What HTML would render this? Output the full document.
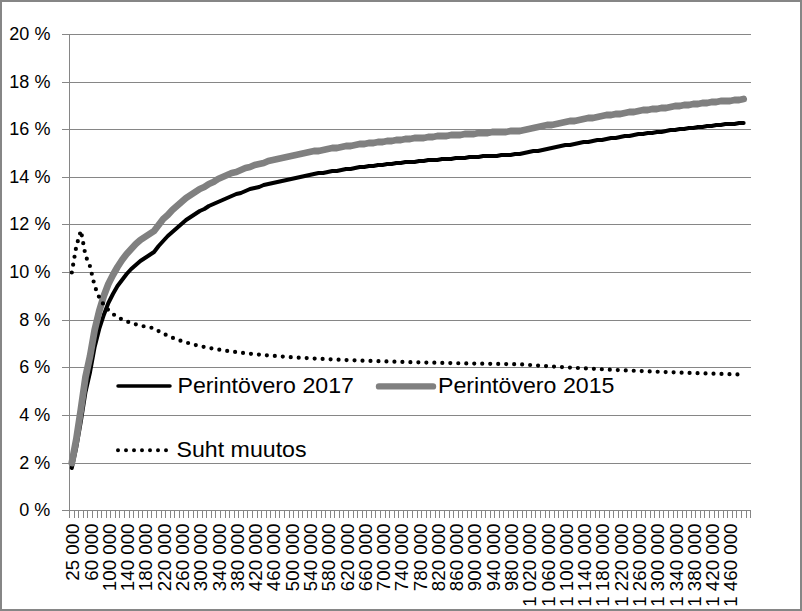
<!DOCTYPE html>
<html><head><meta charset="utf-8"><style>
html,body{margin:0;padding:0;background:#fff;}
svg{display:block;}
text{font-family:"Liberation Sans",sans-serif;fill:#000;}
</style></head><body>
<svg width="802" height="611" viewBox="0 0 802 611">
<rect x="0" y="0" width="802" height="611" fill="#fff"/>
<rect x="1" y="1" width="800" height="609" fill="none" stroke="#868686" stroke-width="2"/>

<rect x="70" y="34" width="681" height="1" fill="#868686"/>
<rect x="70" y="82" width="681" height="1" fill="#868686"/>
<rect x="70" y="129" width="681" height="1" fill="#868686"/>
<rect x="70" y="177" width="681" height="1" fill="#868686"/>
<rect x="70" y="224" width="681" height="1" fill="#868686"/>
<rect x="70" y="272" width="681" height="1" fill="#868686"/>
<rect x="70" y="320" width="681" height="1" fill="#868686"/>
<rect x="70" y="367" width="681" height="1" fill="#868686"/>
<rect x="70" y="415" width="681" height="1" fill="#868686"/>
<rect x="70" y="463" width="681" height="1" fill="#868686"/>
<rect x="62" y="34" width="7" height="1" fill="#868686"/>
<rect x="62" y="82" width="7" height="1" fill="#868686"/>
<rect x="62" y="129" width="7" height="1" fill="#868686"/>
<rect x="62" y="177" width="7" height="1" fill="#868686"/>
<rect x="62" y="224" width="7" height="1" fill="#868686"/>
<rect x="62" y="272" width="7" height="1" fill="#868686"/>
<rect x="62" y="320" width="7" height="1" fill="#868686"/>
<rect x="62" y="367" width="7" height="1" fill="#868686"/>
<rect x="62" y="415" width="7" height="1" fill="#868686"/>
<rect x="62" y="463" width="7" height="1" fill="#868686"/>
<rect x="62" y="510" width="7" height="1" fill="#868686"/>
<rect x="69" y="34" width="1" height="477" fill="#868686"/>
<rect x="69" y="510" width="682" height="1" fill="#868686"/>
<rect x="69" y="511" width="1" height="7" fill="#868686"/>
<rect x="74" y="511" width="1" height="7" fill="#868686"/>
<rect x="78" y="511" width="1" height="7" fill="#868686"/>
<rect x="83" y="511" width="1" height="7" fill="#868686"/>
<rect x="87" y="511" width="1" height="7" fill="#868686"/>
<rect x="92" y="511" width="1" height="7" fill="#868686"/>
<rect x="97" y="511" width="1" height="7" fill="#868686"/>
<rect x="101" y="511" width="1" height="7" fill="#868686"/>
<rect x="106" y="511" width="1" height="7" fill="#868686"/>
<rect x="110" y="511" width="1" height="7" fill="#868686"/>
<rect x="115" y="511" width="1" height="7" fill="#868686"/>
<rect x="119" y="511" width="1" height="7" fill="#868686"/>
<rect x="124" y="511" width="1" height="7" fill="#868686"/>
<rect x="129" y="511" width="1" height="7" fill="#868686"/>
<rect x="133" y="511" width="1" height="7" fill="#868686"/>
<rect x="138" y="511" width="1" height="7" fill="#868686"/>
<rect x="142" y="511" width="1" height="7" fill="#868686"/>
<rect x="147" y="511" width="1" height="7" fill="#868686"/>
<rect x="151" y="511" width="1" height="7" fill="#868686"/>
<rect x="156" y="511" width="1" height="7" fill="#868686"/>
<rect x="161" y="511" width="1" height="7" fill="#868686"/>
<rect x="165" y="511" width="1" height="7" fill="#868686"/>
<rect x="170" y="511" width="1" height="7" fill="#868686"/>
<rect x="174" y="511" width="1" height="7" fill="#868686"/>
<rect x="179" y="511" width="1" height="7" fill="#868686"/>
<rect x="183" y="511" width="1" height="7" fill="#868686"/>
<rect x="188" y="511" width="1" height="7" fill="#868686"/>
<rect x="193" y="511" width="1" height="7" fill="#868686"/>
<rect x="197" y="511" width="1" height="7" fill="#868686"/>
<rect x="202" y="511" width="1" height="7" fill="#868686"/>
<rect x="206" y="511" width="1" height="7" fill="#868686"/>
<rect x="211" y="511" width="1" height="7" fill="#868686"/>
<rect x="215" y="511" width="1" height="7" fill="#868686"/>
<rect x="220" y="511" width="1" height="7" fill="#868686"/>
<rect x="225" y="511" width="1" height="7" fill="#868686"/>
<rect x="229" y="511" width="1" height="7" fill="#868686"/>
<rect x="234" y="511" width="1" height="7" fill="#868686"/>
<rect x="238" y="511" width="1" height="7" fill="#868686"/>
<rect x="243" y="511" width="1" height="7" fill="#868686"/>
<rect x="247" y="511" width="1" height="7" fill="#868686"/>
<rect x="252" y="511" width="1" height="7" fill="#868686"/>
<rect x="257" y="511" width="1" height="7" fill="#868686"/>
<rect x="261" y="511" width="1" height="7" fill="#868686"/>
<rect x="266" y="511" width="1" height="7" fill="#868686"/>
<rect x="270" y="511" width="1" height="7" fill="#868686"/>
<rect x="275" y="511" width="1" height="7" fill="#868686"/>
<rect x="279" y="511" width="1" height="7" fill="#868686"/>
<rect x="284" y="511" width="1" height="7" fill="#868686"/>
<rect x="289" y="511" width="1" height="7" fill="#868686"/>
<rect x="293" y="511" width="1" height="7" fill="#868686"/>
<rect x="298" y="511" width="1" height="7" fill="#868686"/>
<rect x="302" y="511" width="1" height="7" fill="#868686"/>
<rect x="307" y="511" width="1" height="7" fill="#868686"/>
<rect x="311" y="511" width="1" height="7" fill="#868686"/>
<rect x="316" y="511" width="1" height="7" fill="#868686"/>
<rect x="321" y="511" width="1" height="7" fill="#868686"/>
<rect x="325" y="511" width="1" height="7" fill="#868686"/>
<rect x="330" y="511" width="1" height="7" fill="#868686"/>
<rect x="334" y="511" width="1" height="7" fill="#868686"/>
<rect x="339" y="511" width="1" height="7" fill="#868686"/>
<rect x="343" y="511" width="1" height="7" fill="#868686"/>
<rect x="348" y="511" width="1" height="7" fill="#868686"/>
<rect x="353" y="511" width="1" height="7" fill="#868686"/>
<rect x="357" y="511" width="1" height="7" fill="#868686"/>
<rect x="362" y="511" width="1" height="7" fill="#868686"/>
<rect x="366" y="511" width="1" height="7" fill="#868686"/>
<rect x="371" y="511" width="1" height="7" fill="#868686"/>
<rect x="375" y="511" width="1" height="7" fill="#868686"/>
<rect x="380" y="511" width="1" height="7" fill="#868686"/>
<rect x="385" y="511" width="1" height="7" fill="#868686"/>
<rect x="389" y="511" width="1" height="7" fill="#868686"/>
<rect x="394" y="511" width="1" height="7" fill="#868686"/>
<rect x="398" y="511" width="1" height="7" fill="#868686"/>
<rect x="403" y="511" width="1" height="7" fill="#868686"/>
<rect x="407" y="511" width="1" height="7" fill="#868686"/>
<rect x="412" y="511" width="1" height="7" fill="#868686"/>
<rect x="417" y="511" width="1" height="7" fill="#868686"/>
<rect x="421" y="511" width="1" height="7" fill="#868686"/>
<rect x="426" y="511" width="1" height="7" fill="#868686"/>
<rect x="430" y="511" width="1" height="7" fill="#868686"/>
<rect x="435" y="511" width="1" height="7" fill="#868686"/>
<rect x="439" y="511" width="1" height="7" fill="#868686"/>
<rect x="444" y="511" width="1" height="7" fill="#868686"/>
<rect x="449" y="511" width="1" height="7" fill="#868686"/>
<rect x="453" y="511" width="1" height="7" fill="#868686"/>
<rect x="458" y="511" width="1" height="7" fill="#868686"/>
<rect x="462" y="511" width="1" height="7" fill="#868686"/>
<rect x="467" y="511" width="1" height="7" fill="#868686"/>
<rect x="471" y="511" width="1" height="7" fill="#868686"/>
<rect x="476" y="511" width="1" height="7" fill="#868686"/>
<rect x="481" y="511" width="1" height="7" fill="#868686"/>
<rect x="485" y="511" width="1" height="7" fill="#868686"/>
<rect x="490" y="511" width="1" height="7" fill="#868686"/>
<rect x="494" y="511" width="1" height="7" fill="#868686"/>
<rect x="499" y="511" width="1" height="7" fill="#868686"/>
<rect x="503" y="511" width="1" height="7" fill="#868686"/>
<rect x="508" y="511" width="1" height="7" fill="#868686"/>
<rect x="513" y="511" width="1" height="7" fill="#868686"/>
<rect x="517" y="511" width="1" height="7" fill="#868686"/>
<rect x="522" y="511" width="1" height="7" fill="#868686"/>
<rect x="526" y="511" width="1" height="7" fill="#868686"/>
<rect x="531" y="511" width="1" height="7" fill="#868686"/>
<rect x="535" y="511" width="1" height="7" fill="#868686"/>
<rect x="540" y="511" width="1" height="7" fill="#868686"/>
<rect x="545" y="511" width="1" height="7" fill="#868686"/>
<rect x="549" y="511" width="1" height="7" fill="#868686"/>
<rect x="554" y="511" width="1" height="7" fill="#868686"/>
<rect x="558" y="511" width="1" height="7" fill="#868686"/>
<rect x="563" y="511" width="1" height="7" fill="#868686"/>
<rect x="567" y="511" width="1" height="7" fill="#868686"/>
<rect x="572" y="511" width="1" height="7" fill="#868686"/>
<rect x="577" y="511" width="1" height="7" fill="#868686"/>
<rect x="581" y="511" width="1" height="7" fill="#868686"/>
<rect x="586" y="511" width="1" height="7" fill="#868686"/>
<rect x="590" y="511" width="1" height="7" fill="#868686"/>
<rect x="595" y="511" width="1" height="7" fill="#868686"/>
<rect x="599" y="511" width="1" height="7" fill="#868686"/>
<rect x="604" y="511" width="1" height="7" fill="#868686"/>
<rect x="609" y="511" width="1" height="7" fill="#868686"/>
<rect x="613" y="511" width="1" height="7" fill="#868686"/>
<rect x="618" y="511" width="1" height="7" fill="#868686"/>
<rect x="622" y="511" width="1" height="7" fill="#868686"/>
<rect x="627" y="511" width="1" height="7" fill="#868686"/>
<rect x="631" y="511" width="1" height="7" fill="#868686"/>
<rect x="636" y="511" width="1" height="7" fill="#868686"/>
<rect x="641" y="511" width="1" height="7" fill="#868686"/>
<rect x="645" y="511" width="1" height="7" fill="#868686"/>
<rect x="650" y="511" width="1" height="7" fill="#868686"/>
<rect x="654" y="511" width="1" height="7" fill="#868686"/>
<rect x="659" y="511" width="1" height="7" fill="#868686"/>
<rect x="663" y="511" width="1" height="7" fill="#868686"/>
<rect x="668" y="511" width="1" height="7" fill="#868686"/>
<rect x="673" y="511" width="1" height="7" fill="#868686"/>
<rect x="677" y="511" width="1" height="7" fill="#868686"/>
<rect x="682" y="511" width="1" height="7" fill="#868686"/>
<rect x="686" y="511" width="1" height="7" fill="#868686"/>
<rect x="691" y="511" width="1" height="7" fill="#868686"/>
<rect x="695" y="511" width="1" height="7" fill="#868686"/>
<rect x="700" y="511" width="1" height="7" fill="#868686"/>
<rect x="704" y="511" width="1" height="7" fill="#868686"/>
<rect x="709" y="511" width="1" height="7" fill="#868686"/>
<rect x="714" y="511" width="1" height="7" fill="#868686"/>
<rect x="718" y="511" width="1" height="7" fill="#868686"/>
<rect x="723" y="511" width="1" height="7" fill="#868686"/>
<rect x="727" y="511" width="1" height="7" fill="#868686"/>
<rect x="732" y="511" width="1" height="7" fill="#868686"/>
<rect x="736" y="511" width="1" height="7" fill="#868686"/>
<rect x="741" y="511" width="1" height="7" fill="#868686"/>
<rect x="746" y="511" width="1" height="7" fill="#868686"/>
<rect x="750" y="511" width="1" height="7" fill="#868686"/>
<text x="50.4" y="40" font-size="18" text-anchor="end">20 %</text>
<text x="50.4" y="88" font-size="18" text-anchor="end">18 %</text>
<text x="50.4" y="135" font-size="18" text-anchor="end">16 %</text>
<text x="50.4" y="183" font-size="18" text-anchor="end">14 %</text>
<text x="50.4" y="230" font-size="18" text-anchor="end">12 %</text>
<text x="50.4" y="278" font-size="18" text-anchor="end">10 %</text>
<text x="50.4" y="326" font-size="18" text-anchor="end">8 %</text>
<text x="50.4" y="373" font-size="18" text-anchor="end">6 %</text>
<text x="50.4" y="421" font-size="18" text-anchor="end">4 %</text>
<text x="50.4" y="469" font-size="18" text-anchor="end">2 %</text>
<text x="50.4" y="516" font-size="18" text-anchor="end">0 %</text>
<text transform="translate(79.29,523.5) rotate(-90) scale(1.04,1)" font-size="18" text-anchor="end">25 000</text>
<text transform="translate(97.57,523.5) rotate(-90) scale(1.04,1)" font-size="18" text-anchor="end">60 000</text>
<text transform="translate(115.85,523.5) rotate(-90) scale(1.04,1)" font-size="18" text-anchor="end">100 000</text>
<text transform="translate(134.13,523.5) rotate(-90) scale(1.04,1)" font-size="18" text-anchor="end">140 000</text>
<text transform="translate(152.41,523.5) rotate(-90) scale(1.04,1)" font-size="18" text-anchor="end">180 000</text>
<text transform="translate(170.69,523.5) rotate(-90) scale(1.04,1)" font-size="18" text-anchor="end">220 000</text>
<text transform="translate(188.98,523.5) rotate(-90) scale(1.04,1)" font-size="18" text-anchor="end">260 000</text>
<text transform="translate(207.26,523.5) rotate(-90) scale(1.04,1)" font-size="18" text-anchor="end">300 000</text>
<text transform="translate(225.54,523.5) rotate(-90) scale(1.04,1)" font-size="18" text-anchor="end">340 000</text>
<text transform="translate(243.82,523.5) rotate(-90) scale(1.04,1)" font-size="18" text-anchor="end">380 000</text>
<text transform="translate(262.10,523.5) rotate(-90) scale(1.04,1)" font-size="18" text-anchor="end">420 000</text>
<text transform="translate(280.39,523.5) rotate(-90) scale(1.04,1)" font-size="18" text-anchor="end">460 000</text>
<text transform="translate(298.67,523.5) rotate(-90) scale(1.04,1)" font-size="18" text-anchor="end">500 000</text>
<text transform="translate(316.95,523.5) rotate(-90) scale(1.04,1)" font-size="18" text-anchor="end">540 000</text>
<text transform="translate(335.23,523.5) rotate(-90) scale(1.04,1)" font-size="18" text-anchor="end">580 000</text>
<text transform="translate(353.51,523.5) rotate(-90) scale(1.04,1)" font-size="18" text-anchor="end">620 000</text>
<text transform="translate(371.80,523.5) rotate(-90) scale(1.04,1)" font-size="18" text-anchor="end">660 000</text>
<text transform="translate(390.08,523.5) rotate(-90) scale(1.04,1)" font-size="18" text-anchor="end">700 000</text>
<text transform="translate(408.36,523.5) rotate(-90) scale(1.04,1)" font-size="18" text-anchor="end">740 000</text>
<text transform="translate(426.64,523.5) rotate(-90) scale(1.04,1)" font-size="18" text-anchor="end">780 000</text>
<text transform="translate(444.92,523.5) rotate(-90) scale(1.04,1)" font-size="18" text-anchor="end">820 000</text>
<text transform="translate(463.20,523.5) rotate(-90) scale(1.04,1)" font-size="18" text-anchor="end">860 000</text>
<text transform="translate(481.49,523.5) rotate(-90) scale(1.04,1)" font-size="18" text-anchor="end">900 000</text>
<text transform="translate(499.77,523.5) rotate(-90) scale(1.04,1)" font-size="18" text-anchor="end">940 000</text>
<text transform="translate(518.05,523.5) rotate(-90) scale(1.04,1)" font-size="18" text-anchor="end">980 000</text>
<text transform="translate(536.33,523.5) rotate(-90) scale(1.04,1)" font-size="18" text-anchor="end">1 020 000</text>
<text transform="translate(554.61,523.5) rotate(-90) scale(1.04,1)" font-size="18" text-anchor="end">1 060 000</text>
<text transform="translate(572.90,523.5) rotate(-90) scale(1.04,1)" font-size="18" text-anchor="end">1 100 000</text>
<text transform="translate(591.18,523.5) rotate(-90) scale(1.04,1)" font-size="18" text-anchor="end">1 140 000</text>
<text transform="translate(609.46,523.5) rotate(-90) scale(1.04,1)" font-size="18" text-anchor="end">1 180 000</text>
<text transform="translate(627.74,523.5) rotate(-90) scale(1.04,1)" font-size="18" text-anchor="end">1 220 000</text>
<text transform="translate(646.02,523.5) rotate(-90) scale(1.04,1)" font-size="18" text-anchor="end">1 260 000</text>
<text transform="translate(664.31,523.5) rotate(-90) scale(1.04,1)" font-size="18" text-anchor="end">1 300 000</text>
<text transform="translate(682.59,523.5) rotate(-90) scale(1.04,1)" font-size="18" text-anchor="end">1 340 000</text>
<text transform="translate(700.87,523.5) rotate(-90) scale(1.04,1)" font-size="18" text-anchor="end">1 380 000</text>
<text transform="translate(719.15,523.5) rotate(-90) scale(1.04,1)" font-size="18" text-anchor="end">1 420 000</text>
<text transform="translate(737.43,523.5) rotate(-90) scale(1.04,1)" font-size="18" text-anchor="end">1 460 000</text>
<polyline points="71.79,468 76.36,447 80.93,421 85.50,392 90.07,372 94.64,347 99.21,329 103.78,315 108.35,303 112.92,294 117.49,286 122.06,280 126.63,274 131.20,269 135.77,265 140.34,261 144.91,258 149.48,255 154.05,252 158.62,246 163.19,241 167.77,236 172.34,232 176.91,228 181.48,224 186.05,220 190.62,217 195.19,214 199.76,211 204.33,209 208.90,206 213.47,204 218.04,202 222.61,200 227.18,198 231.75,196 236.32,194 240.89,193 245.46,191 250.03,189 254.60,188 259.17,187 263.74,185 268.32,184 272.89,183 277.46,182 282.03,181 286.60,180 291.17,179 295.74,178 300.31,177 304.88,176 309.45,175 314.02,174 318.59,173 323.16,173 327.73,172 332.30,171 336.87,171 341.44,170 346.01,169 350.58,169 355.15,168 359.72,167 364.30,167 368.87,166 373.44,166 378.01,165 382.58,165 387.15,164 391.72,164 396.29,163 400.86,163 405.43,162 410.00,162 414.57,162 419.14,161 423.71,161 428.28,160 432.85,160 437.42,160 441.99,159 446.56,159 451.13,159 455.70,158 460.28,158 464.85,158 469.42,157 473.99,157 478.56,157 483.13,156 487.70,156 492.27,156 496.84,156 501.41,155 505.98,155 510.55,155 515.12,154 519.69,154 524.26,153 528.83,152 533.40,151 537.97,151 542.54,150 547.11,149 551.68,148 556.26,147 560.83,146 565.40,145 569.97,145 574.54,144 579.11,143 583.68,142 588.25,142 592.82,141 597.39,140 601.96,140 606.53,139 611.10,138 615.67,138 620.24,137 624.81,136 629.38,136 633.95,135 638.52,134 643.09,134 647.66,133 652.23,133 656.81,132 661.38,132 665.95,131 670.52,130 675.09,130 679.66,129 684.23,129 688.80,128 693.37,128 697.94,127 702.51,127 707.08,126 711.65,126 716.22,125 720.79,125 725.36,124 729.93,124 734.50,124 739.07,123 743.64,123" fill="none" stroke="#000" stroke-width="4" stroke-linejoin="round" stroke-linecap="round"/>
<polyline points="71.79,463 76.36,439 80.93,409 85.50,377 90.07,356 94.64,330 99.21,311 103.78,296 108.35,284 112.92,275 117.49,267 122.06,260 126.63,254 131.20,249 135.77,244 140.34,240 144.91,237 149.48,234 154.05,231 158.62,225 163.19,219 167.77,215 172.34,210 176.91,206 181.48,202 186.05,198 190.62,195 195.19,192 199.76,189 204.33,187 208.90,184 213.47,182 218.04,179 222.61,177 227.18,175 231.75,173 236.32,172 240.89,170 245.46,168 250.03,167 254.60,165 259.17,164 263.74,163 268.32,161 272.89,160 277.46,159 282.03,158 286.60,157 291.17,156 295.74,155 300.31,154 304.88,153 309.45,152 314.02,151 318.59,151 323.16,150 327.73,149 332.30,148 336.87,148 341.44,147 346.01,146 350.58,146 355.15,145 359.72,144 364.30,144 368.87,143 373.44,143 378.01,142 382.58,142 387.15,141 391.72,141 396.29,140 400.86,140 405.43,139 410.00,139 414.57,138 419.14,138 423.71,138 428.28,137 432.85,137 437.42,136 441.99,136 446.56,136 451.13,135 455.70,135 460.28,135 464.85,134 469.42,134 473.99,134 478.56,133 483.13,133 487.70,133 492.27,132 496.84,132 501.41,132 505.98,132 510.55,131 515.12,131 519.69,131 524.26,130 528.83,129 533.40,128 537.97,127 542.54,126 547.11,125 551.68,125 556.26,124 560.83,123 565.40,122 569.97,121 574.54,121 579.11,120 583.68,119 588.25,118 592.82,118 597.39,117 601.96,116 606.53,115 611.10,115 615.67,114 620.24,114 624.81,113 629.38,112 633.95,112 638.52,111 643.09,110 647.66,110 652.23,109 656.81,109 661.38,108 665.95,108 670.52,107 675.09,106 679.66,106 684.23,105 688.80,105 693.37,104 697.94,104 702.51,103 707.08,103 711.65,102 716.22,102 720.79,101 725.36,101 729.93,101 734.50,100 739.07,100 743.64,99" fill="none" stroke="#808080" stroke-width="6.8" stroke-linejoin="round" stroke-linecap="round"/>
<polyline points="71.79,272.50 76.36,246.06 80.93,230.50 85.50,255.50 90.07,266.40 94.64,285.97 99.21,297.37 103.78,304.82 108.35,310.08 112.92,313.99 117.49,317.00 122.06,319.41 126.63,321.36 131.20,322.98 135.77,324.35 140.34,325.53 144.91,326.54 149.48,327.42 154.05,328.20 158.62,331.06 163.19,333.55 167.77,335.74 172.34,337.69 176.91,339.44 181.48,341.00 186.05,342.42 190.62,343.71 195.19,344.88 199.76,345.96 204.33,346.95 208.90,347.86 213.47,348.70 218.04,349.49 222.61,350.21 227.18,350.89 231.75,351.53 236.32,352.13 240.89,352.69 245.46,353.21 250.03,353.71 254.60,354.18 259.17,354.62 263.74,355.04 268.32,355.44 272.89,355.82 277.46,356.18 282.03,356.52 286.60,356.85 291.17,357.16 295.74,357.46 300.31,357.74 304.88,358.01 309.45,358.27 314.02,358.52 318.59,358.76 323.16,359.00 327.73,359.22 332.30,359.43 336.87,359.64 341.44,359.83 346.01,360.03 350.58,360.21 355.15,360.39 359.72,360.56 364.30,360.73 368.87,360.89 373.44,361.04 378.01,361.19 382.58,361.34 387.15,361.48 391.72,361.62 396.29,361.75 400.86,361.88 405.43,362.00 410.00,362.13 414.57,362.24 419.14,362.36 423.71,362.47 428.28,362.58 432.85,362.69 437.42,362.79 441.99,362.89 446.56,362.99 451.13,363.08 455.70,363.18 460.28,363.27 464.85,363.35 469.42,363.44 473.99,363.52 478.56,363.61 483.13,363.69 487.70,363.77 492.27,363.84 496.84,363.92 501.41,363.99 505.98,364.06 510.55,364.13 515.12,364.20 519.69,364.27 524.26,364.61 528.83,364.93 533.40,365.26 537.97,365.57 542.54,365.87 547.11,366.17 551.68,366.47 556.26,366.75 560.83,367.03 565.40,367.30 569.97,367.57 574.54,367.83 579.11,368.08 583.68,368.33 588.25,368.58 592.82,368.82 597.39,369.05 601.96,369.28 606.53,369.51 611.10,369.73 615.67,369.94 620.24,370.16 624.81,370.36 629.38,370.57 633.95,370.77 638.52,370.96 643.09,371.16 647.66,371.34 652.23,371.53 656.81,371.71 661.38,371.89 665.95,372.07 670.52,372.24 675.09,372.41 679.66,372.57 684.23,372.74 688.80,372.90 693.37,373.06 697.94,373.21 702.51,373.36 707.08,373.51 711.65,373.66 716.22,373.81 720.79,373.95 725.36,374.09 729.93,374.23 734.50,374.37 739.07,374.50 743.64,374.63" fill="none" stroke="#000" stroke-width="4.2" stroke-dasharray="0 7.984" stroke-linejoin="round" stroke-linecap="round"/>
<line x1="118" y1="386" x2="170" y2="386" stroke="#000" stroke-width="3.5" stroke-linecap="round"/>
<text transform="translate(177.5,392.5) scale(1.083,1)" font-size="21.4">Perintövero 2017</text>
<line x1="379" y1="386.4" x2="433" y2="386.4" stroke="#808080" stroke-width="6.4" stroke-linecap="round"/>
<text transform="translate(438,392.5) scale(1.083,1)" font-size="21.4">Perintövero 2015</text>
<line x1="118" y1="450.2" x2="167" y2="450.2" stroke="#000" stroke-width="4" stroke-dasharray="0 8" stroke-linecap="round"/>
<text transform="translate(176.5,456.5) scale(1.083,1)" font-size="21.4">Suht muutos</text>

</svg></body></html>
